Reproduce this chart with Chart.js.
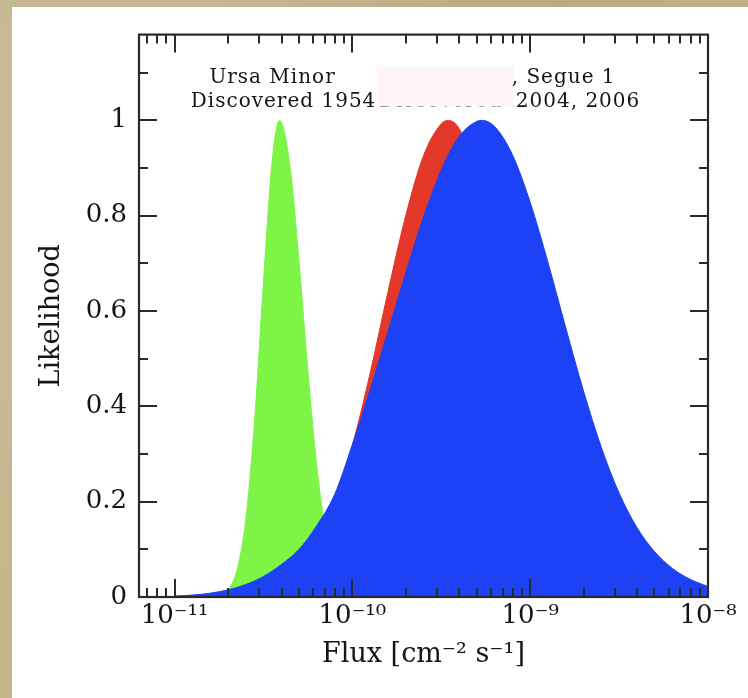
<!DOCTYPE html>
<html>
<head>
<meta charset="utf-8">
<script src="https://cdn.jsdelivr.net/npm/chart.js@4.4.1/dist/chart.umd.min.js"></script>
<style>
  html, body { margin: 0; padding: 0; }
  body { width: 748px; height: 698px; overflow: hidden; position: relative;
         background: #c4b58c;
         background-image: radial-gradient(ellipse at 20% 30%, rgba(255,255,255,0.10), rgba(0,0,0,0) 60%),
                           radial-gradient(ellipse at 70% 5%, rgba(90,70,30,0.10), rgba(0,0,0,0) 50%); }
  #panel { position: absolute; left: 12px; top: 7px; width: 736px; height: 691px; background: #ffffff; }
  canvas { display: block; }
</style>
</head>
<body>
<div id="panel"><canvas id="chart" width="736" height="691"></canvas></div>
<script>
// Likelihood curves versus log10 of the flux [cm^-2 s^-1]
const ursaMinorLogFlux = [-10.75, -10.70, -10.65, -10.60, -10.55, -10.50, -10.45, -10.409, -10.35, -10.30, -10.25, -10.20, -10.15, -10.10, -10.05, -10.00, -9.95, -9.90];
const ursaMinorLike    = [0.003, 0.015, 0.055, 0.161, 0.370, 0.661, 0.919, 1.0, 0.902, 0.704, 0.473, 0.274, 0.137, 0.059, 0.022, 0.007, 0.002, 0.0];

const dwarfRedLogFlux = [-10.9, -10.8, -10.7, -10.6, -10.5, -10.4, -10.3, -10.2, -10.1, -10.0, -9.9, -9.8, -9.7, -9.6, -9.5, -9.46, -9.4, -9.3, -9.2, -9.1, -9.0, -8.9, -8.8, -8.7, -8.6, -8.5, -8.4, -8.3];
const dwarfRedLike    = [0.0, 0.001, 0.002, 0.005, 0.012, 0.027, 0.058, 0.112, 0.200, 0.318, 0.470, 0.640, 0.800, 0.926, 0.993, 1.0, 0.983, 0.882, 0.719, 0.531, 0.356, 0.216, 0.119, 0.060, 0.027, 0.011, 0.004, 0.0];

const dwarfBlueLogFlux = [-11.0, -10.9, -10.8, -10.7, -10.6, -10.5, -10.4, -10.3, -10.2, -10.1, -10.0, -9.9, -9.8, -9.7, -9.6, -9.5, -9.4, -9.3, -9.27, -9.2, -9.1, -9.0, -8.9, -8.8, -8.7, -8.6, -8.5, -8.4, -8.3, -8.2, -8.1, -8.0];
const dwarfBlueLike    = [0.002, 0.004, 0.008, 0.015, 0.026, 0.043, 0.068, 0.100, 0.150, 0.215, 0.320, 0.435, 0.557, 0.680, 0.797, 0.896, 0.966, 0.998, 1.0, 0.987, 0.928, 0.828, 0.702, 0.565, 0.432, 0.314, 0.218, 0.146, 0.095, 0.060, 0.037, 0.022];

// Axis ticks
const xTickExponents = [-11, -10, -9, -8];
const xTickMultipliers = [1, 2, 3, 4, 5, 6, 7, 8, 9];
const yTickValues = [0, 0.2, 0.4, 0.6, 0.8, 1];
const yMinorStep = 0.1;

// Annotation text
const labelLine1Left = 'Ursa Minor';
const labelLine1Right = ', Segue 1';
const labelLine2Left = 'Discovered 1954';
const labelLine2Mid = 'Discovered';
const labelLine2Right = '2004, 2006';

const SERIF = '"DejaVu Serif", "Liberation Serif", serif';
const SUP = { '-': '\u207B', '0': '\u2070', '1': '\u00B9', '2': '\u00B2', '3': '\u00B3', '4': '\u2074',
              '5': '\u2075', '6': '\u2076', '7': '\u2077', '8': '\u2078', '9': '\u2079' };
const sup = s => String(s).split('').map(c => SUP[c] || c).join('');

const toPoints = (logs, vals) => logs.map((l, i) => ({ x: Math.pow(10, l), y: vals[i] }));

function area(points, color, order) {
  return {
    data: points, order,
    fill: 'origin', backgroundColor: color, borderColor: color, borderWidth: 1,
    pointRadius: 0, cubicInterpolationMode: 'monotone'
  };
}

// Box frame with inward ticks on all four sides
const frameTicks = {
  id: 'frameTicks',
  afterDatasetsDraw(chart) {
    const { ctx, chartArea: a, scales: { x, y } } = chart;
    ctx.save();
    ctx.strokeStyle = '#2a2a2a';
    ctx.lineWidth = 2;
    ctx.beginPath();
    const lo = Math.floor(Math.log10(x.min)), hi = Math.ceil(Math.log10(x.max));
    for (let d = lo; d <= hi; d++) {
      for (const m of xTickMultipliers) {
        const v = m * Math.pow(10, d);
        if (v < x.min * 0.999 || v > x.max * 1.001) continue;
        const px = Math.round(x.getPixelForValue(v));
        const len = m === 1 ? 18 : 9;
        ctx.moveTo(px, a.bottom); ctx.lineTo(px, a.bottom - len);
        ctx.moveTo(px, a.top); ctx.lineTo(px, a.top + len);
      }
    }
    const nMinor = Math.floor(y.max / yMinorStep + 1e-9);
    for (let i = 0; i <= nMinor; i++) {
      const v = i * yMinorStep;
      const py = Math.round(y.getPixelForValue(v));
      const len = i % 2 === 0 ? 18 : 9;
      ctx.moveTo(a.left, py); ctx.lineTo(a.left + len, py);
      ctx.moveTo(a.right, py); ctx.lineTo(a.right - len, py);
    }
    ctx.stroke();
    ctx.lineWidth = 2.2;
    ctx.strokeRect(a.left, a.top, a.right - a.left, a.bottom - a.top);
    ctx.restore();
  }
};

// Axis titles and the discovery labels
const texts = {
  id: 'texts',
  afterDraw(chart) {
    const { ctx, chartArea: a, scales: { x, y } } = chart;
    const X = l => x.getPixelForValue(Math.pow(10, l));
    ctx.save();
    ctx.fillStyle = '#151515';
    ctx.textBaseline = 'middle';

    // axis titles
    ctx.font = '27px ' + SERIF;
    ctx.textAlign = 'center';
    ctx.fillText('Flux [cm' + sup(-2) + ' s' + sup(-1) + ']', (a.left + a.right) / 2, a.bottom + 58);
    ctx.save();
    ctx.translate(40, (a.top + a.bottom) / 2);
    ctx.rotate(-Math.PI / 2);
    ctx.fillText('Likelihood', 0, 0);
    ctx.restore();

    // discovery labels
    ctx.font = '20px ' + SERIF;
    ctx.letterSpacing = '1px';
    const y1 = y.getPixelForValue(1.09), y2 = y.getPixelForValue(1.04);
    ctx.textAlign = 'center';
    ctx.fillText(labelLine1Left, X(-10.449), y1);
    ctx.fillText(labelLine2Left, X(-10.387), y2);
    ctx.textAlign = 'left';
    ctx.fillText(labelLine2Mid, X(-9.85), y2);
    // pale cover box
    const bx0 = X(-9.863), bx1 = X(-9.092);
    const by0 = y.getPixelForValue(1.1125), by1 = y.getPixelForValue(1.029);
    ctx.fillStyle = '#fff5f9';
    ctx.fillRect(bx0, by0, bx1 - bx0, by1 - by0);
    ctx.fillStyle = '#151515';
    ctx.fillText(labelLine1Right, X(-9.104), y1);
    ctx.fillText(labelLine2Right, X(-9.081), y2);
    ctx.restore();
  }
};

new Chart(document.getElementById('chart'), {
  type: 'line',
  data: {
    datasets: [
      area(toPoints(dwarfBlueLogFlux, dwarfBlueLike), '#1d41f4', 0),
      area(toPoints(dwarfRedLogFlux, dwarfRedLike), '#e3382a', 1),
      area(toPoints(ursaMinorLogFlux, ursaMinorLike), '#7ef446', 2)
    ]
  },
  options: {
    responsive: false,
    animation: false,
    devicePixelRatio: 1,
    layout: { padding: { left: 0, top: 24, right: 40, bottom: 0 } },
    plugins: { legend: { display: false }, tooltip: { enabled: false } },
    scales: {
      x: {
        type: 'logarithmic',
        min: Math.pow(10, -11.2),
        max: 1e-8,
        grid: { display: false, drawTicks: false },
        border: { display: false },
        afterBuildTicks: s => { s.ticks = xTickExponents.map(e => ({ value: Math.pow(10, e) })); },
        afterFit: s => { s.height = 101; },
        ticks: {
          autoSkip: false, maxRotation: 0, padding: 4, color: '#151515',
          font: { family: SERIF, size: 26 },
          callback: v => '10' + sup(Math.round(Math.log10(v)))
        }
      },
      y: {
        min: 0,
        max: 1.18,
        grid: { display: false, drawTicks: false },
        border: { display: false },
        afterBuildTicks: s => { s.ticks = yTickValues.map(v => ({ value: v })); },
        afterFit: s => { s.width = 127; },
        ticks: {
          padding: 12, color: '#151515',
          font: { family: SERIF, size: 26 },
          callback: v => String(Math.round(v * 10) / 10)
        }
      }
    }
  },
  plugins: [frameTicks, texts]
});
</script>
</body>
</html>
